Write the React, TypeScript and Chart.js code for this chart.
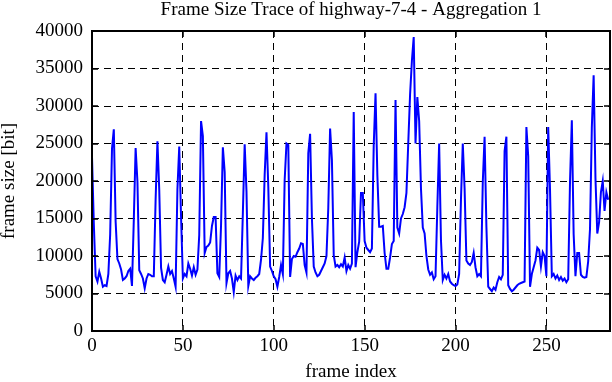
import React, { useEffect, useRef } from "react";
import { Chart, registerables } from "chart.js";

Chart.register(...registerables);

const chartTitle = "Frame Size Trace of highway-7-4 - Aggregation 1";
const xAxisTitle = "frame index";
const yAxisTitle = "frame size [bit]";

const xTickValues = [0, 50, 100, 150, 200, 250];
const yTickValues = [0, 5000, 10000, 15000, 20000, 25000, 30000, 35000, 40000];

const frameSizes = [
  23200, 14300, 7300, 6600, 7900, 7000, 5900, 6100, 6000, 7600,
  12900, 24300, 26900, 14600, 9600, 9000, 8200, 6800, 7000, 7300,
  8000, 8300, 6000, 14800, 24400, 19900, 8100, 7600, 7000, 5700,
  7000, 7600, 7500, 7300, 7300, 17500, 25300, 18800, 8400, 6800,
  6500, 7500, 8600, 7600, 8000, 7000, 5900, 18900, 24600, 15200,
  7000, 7600, 7300, 9000, 8300, 7400, 8500, 7500, 8200, 12800,
  28000, 26000, 10400, 11200, 11400, 11800, 14000, 15200, 15200, 7700,
  7200, 14100, 24500, 21200, 6400, 7700, 8000, 7000, 5200, 7400,
  6800, 7300, 7000, 15700, 24900, 18600, 6000, 7300, 7000, 6800,
  7100, 7300, 7600, 9500, 12400, 20800, 26500, 19200, 8600, 8000,
  7300, 6900, 5900, 7200, 8800, 7600, 20100, 25000, 24800, 7200,
  9600, 10000, 9900, 10500, 11000, 11700, 11600, 8800, 7800, 23700,
  26300, 15000, 8600, 7800, 7300, 7500, 8000, 8500, 9000, 10000,
  16400, 27000, 22800, 10100, 8600, 8800, 8500, 8900, 8600, 9800,
  8000, 8800, 8300, 9000, 29200, 8500, 10500, 11900, 18400, 18400,
  12000, 11100, 10800, 10500, 11000, 24700, 31700, 20800, 13900, 13900,
  14000, 10400, 8300, 8300, 9800, 11600, 12000, 30800, 13800, 13000,
  15000, 15600, 16500, 18400, 25000, 31500, 36000, 39200, 25000, 31200,
  28000, 19000, 13800, 13000, 10000, 8200, 7500, 7800, 6900, 7300,
  16500, 25000, 12100, 6800, 7500, 7000, 7600, 6600, 6300, 6100,
  6000, 6200, 7600, 17500, 25000, 19000, 9400, 9000, 8800, 9200,
  10400, 8500, 7300, 7600, 7300, 19800, 25900, 13900, 5900, 5600,
  5300, 5800, 5500, 6500, 7200, 6900, 7500, 24000, 25900, 6100,
  5600, 5300, 5500, 5800, 6100, 6300, 6400, 6500, 6600, 27200,
  23300, 5900, 7600, 8500, 9400, 11100, 10800, 8600, 10500, 10000,
  7300, 27200, 18800, 7300, 7600, 7000, 7400, 6800, 7200, 6700,
  7000, 6500, 6900, 19900, 28100, 12900, 7300, 10400, 10400, 7500,
  7200, 7100, 7200, 9300, 13600, 27100, 34100, 20400, 13000, 14500,
  18500, 20000, 16000, 18500, 17500,
];

const X_MAX = 285;
const Y_MAX = 40000;
const FONT = "'Liberation Serif', 'Times New Roman', serif";

export default function App() {
  const canvasRef = useRef<HTMLCanvasElement | null>(null);

  useEffect(() => {
    document.body.style.margin = "0";
    const canvas = canvasRef.current;
    if (!canvas) return;

    const framePlugin = {
      id: "gnuplotFrame",
      afterDatasetsDraw(chart: any) {
        const { ctx, chartArea: a, scales } = chart;
        const xs = scales.x;
        const ys = scales.y;
        ctx.save();
        ctx.strokeStyle = "#000";
        ctx.lineWidth = 1.5;
        ctx.setLineDash([]);
        ctx.beginPath();
        const tl = 6;
        for (const t of xTickValues) {
          const px = Math.round(xs.getPixelForValue(t));
          ctx.moveTo(px, a.bottom);
          ctx.lineTo(px, a.bottom - tl);
          ctx.moveTo(px, a.top);
          ctx.lineTo(px, a.top + tl);
        }
        for (const t of yTickValues) {
          const py = Math.round(ys.getPixelForValue(t));
          ctx.moveTo(a.left, py);
          ctx.lineTo(a.left + tl, py);
          ctx.moveTo(a.right, py);
          ctx.lineTo(a.right - tl, py);
        }
        ctx.stroke();
        ctx.lineWidth = 2;
        ctx.strokeRect(a.left, a.top, a.right - a.left, a.bottom - a.top);
        ctx.restore();
      },
      afterDraw(chart: any) {
        const { ctx, chartArea: a } = chart;
        ctx.save();
        ctx.fillStyle = "#000";
        ctx.font = `19px ${FONT}`;
        ctx.textAlign = "center";
        ctx.textBaseline = "middle";
        ctx.fillText(chartTitle, (a.left + a.right) / 2, 10);
        ctx.restore();
      },
    };

    const chart = new Chart(canvas, {
      type: "line",
      data: {
        datasets: [
          {
            data: frameSizes.map((v, i) => ({ x: i, y: v })),
            borderColor: "#0000ff",
            borderWidth: 2,
            pointRadius: 0,
            tension: 0,
            fill: false,
          },
        ],
      },
      options: {
        animation: false,
        responsive: false,
        devicePixelRatio: 1,
        layout: { padding: { top: 31, right: 2, left: 0, bottom: 0 } },
        plugins: {
          legend: { display: false },
          tooltip: { enabled: false },
          title: { display: false },
        },
        scales: {
          x: {
            type: "linear",
            min: 0,
            max: X_MAX,
            afterBuildTicks: (scale: any) => {
              scale.ticks = xTickValues.map((v) => ({ value: v }));
            },
            afterFit: (scale: any) => {
              scale.height = 51;
            },
            ticks: {
              color: "#000",
              font: { family: FONT, size: 19 },
              padding: 4,
              maxRotation: 0,
            },
            grid: {
              color: "#000",
              lineWidth: 1,
              drawTicks: false,
            },
            border: { display: false, dash: [7, 5] },
            title: {
              display: true,
              text: xAxisTitle,
              color: "#000",
              font: { family: FONT, size: 19, lineHeight: 1 },
              padding: 0,
            },
          },
          y: {
            type: "linear",
            min: 0,
            max: Y_MAX,
            afterBuildTicks: (scale: any) => {
              scale.ticks = yTickValues.map((v) => ({ value: v }));
            },
            afterFit: (scale: any) => {
              scale.width = 92;
            },
            ticks: {
              color: "#000",
              font: { family: FONT, size: 19 },
              padding: 9,
              callback: (v: any) => String(v),
            },
            grid: {
              color: "#000",
              lineWidth: 1,
              drawTicks: false,
            },
            border: { display: false, dash: [7, 5] },
            title: {
              display: true,
              text: yAxisTitle,
              color: "#000",
              font: { family: FONT, size: 19, lineHeight: 1 },
              padding: 0,
            },
          },
        },
      },
      plugins: [framePlugin],
    });

    return () => {
      chart.destroy();
    };
  }, []);

  return (
    <div style={{ width: 612, height: 382 }}>
      <canvas ref={canvasRef} width={612} height={382} style={{ display: "block", width: 612, height: 382 }} />
    </div>
  );
}
